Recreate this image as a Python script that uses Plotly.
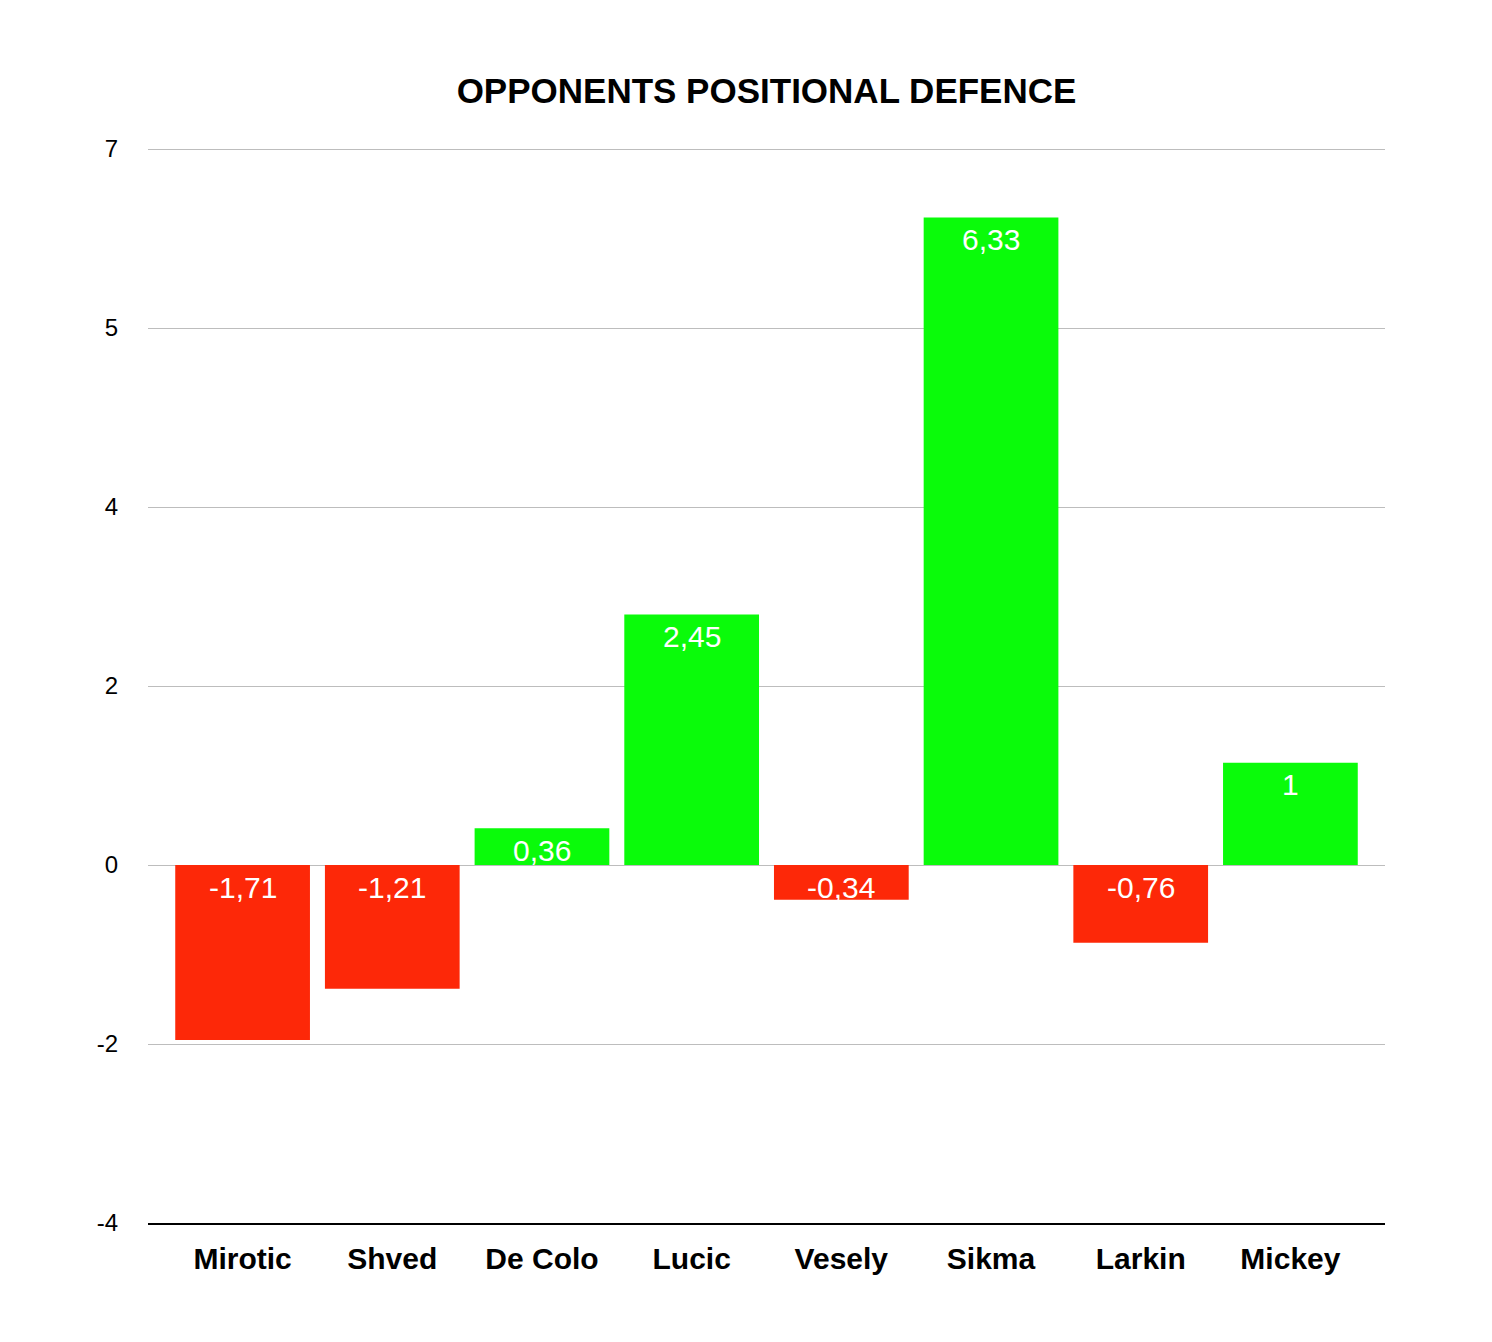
import plotly.graph_objects as go

# data
players = ["Mirotic", "Shved", "De Colo", "Lucic", "Vesely", "Sikma", "Larkin", "Mickey"]
values = [-1.71, -1.21, 0.36, 2.45, -0.34, 6.33, -0.76, 1.0]
labels = ["-1,71", "-1,21", "0,36", "2,45", "-0,34", "6,33", "-0,76", "1"]

# the original axis steps by 1.75 but shows rounded labels
tick_vals = [-3.5, -1.75, 0, 1.75, 3.5, 5.25, 7]
tick_text = ["-4", "-2", "0", "2", "4", "5", "7"]

GREEN = "#0AFB0A"
RED = "#FD2808"
FONT = "Liberation Sans, Arial, Helvetica, sans-serif"

colors = [GREEN if v >= 0 else RED for v in values]

fig = go.Figure()
fig.add_trace(go.Bar(x=players, y=values, marker_color=colors,
                     marker_line_width=0, hoverinfo="x+y"))

# value labels sit just inside the bar end (positive) or below zero (negative)
for p, v, t in zip(players, values, labels):
    fig.add_annotation(x=p, y=max(v, 0), text=t, showarrow=False,
                       yanchor="middle", yshift=-22,
                       font=dict(family=FONT, size=30, color="white"))

fig.update_layout(
    width=1492, height=1342,
    paper_bgcolor="white", plot_bgcolor="white",
    margin=dict(l=140, r=115, t=140, b=127),
    bargap=0.1,
    showlegend=False,
    title=dict(text="<b>OPPONENTS POSITIONAL DEFENCE</b>",
               x=0.5, xref="paper", xanchor="center",
               y=1 - 83 / 1342, yanchor="middle",
               font=dict(family=FONT, size=35, color="black")),
    font=dict(family=FONT, color="black"),
)
fig.update_xaxes(range=[-0.632, len(players) - 1 + 0.632],
                 showline=True, linecolor="black", linewidth=2,
                 showgrid=False, ticks="", ticklabelstandoff=8,
                 tickfont=dict(family=FONT, size=30, color="black"),
                 tickprefix="<b>", ticksuffix="</b>")
fig.update_yaxes(range=[-3.5, 7.01], tickvals=tick_vals, ticktext=tick_text,
                 showgrid=True, gridcolor="#BDBDBD", gridwidth=1,
                 zeroline=False, showline=False, ticks="",
                 ticklabelstandoff=29,
                 tickfont=dict(family=FONT, size=24, color="black"))

fig.write_html("out.html")
